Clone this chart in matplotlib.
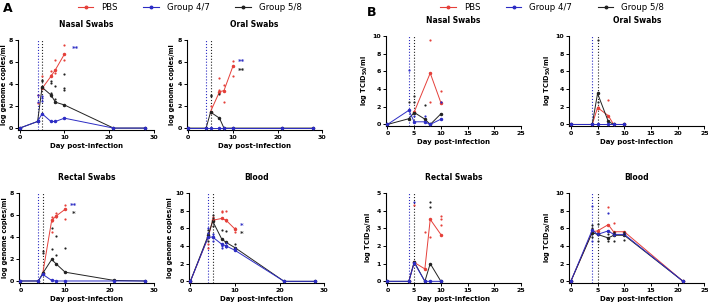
import matplotlib.pyplot as plt
from matplotlib.lines import Line2D

RED = "#e5403a"
BLUE = "#2c2cc4"
BLACK = "#222222"

# ---------- Data ----------
days_a = [0, 4, 5, 7, 8, 10, 21, 28]
days_b = [0, 4, 5, 7, 8, 10]
days_b_blood = [0, 4, 5, 7, 8, 10, 21]

# A: Nasal swabs (log genome copies/ml)
a_nasal_pbs_x = [5, 7, 8, 10]
a_nasal_pbs_y = [3.6, 4.7, 5.3, 6.7]
a_nasal_g47_y = [0, 0.6, 1.3, 0.6, 0.6, 0.9, 0, 0]
a_nasal_g58_y = [0, 0.6, 3.7, 3.0, 2.35, 2.1, 0, 0]
a_nasal_pbs_px = [4, 4, 5, 7, 7, 8, 8, 10, 10]
a_nasal_pbs_py = [3.0, 2.3, 4.7, 5.2, 4.8, 6.2, 5.0, 7.5, 6.2]
a_nasal_g47_px = [4, 4, 5, 5, 5]
a_nasal_g47_py = [3.0, 2.4, 2.9, 2.7, 2.5]
a_nasal_g58_px = [5, 5, 5, 7, 7, 7, 7, 8, 8, 8, 10, 10, 10]
a_nasal_g58_py = [4.4, 4.3, 3.7, 4.3, 4.1, 3.2, 2.9, 3.8, 2.6, 2.4, 4.9, 3.6, 3.5]

# A: Oral swabs
a_oral_pbs_x = [5, 7, 8, 10]
a_oral_pbs_y = [1.5, 3.3, 3.4, 5.6]
a_oral_g47_y = [0, 0, 0, 0, 0, 0, 0, 0]
a_oral_g58_y = [0, 0, 1.45, 0.9, 0, 0, 0, 0]
a_oral_pbs_px = [5, 7, 7, 8, 8, 10, 10]
a_oral_pbs_py = [2.0, 4.5, 3.5, 3.9, 2.4, 6.1, 4.7]
a_oral_g58_px = [5, 5, 7]
a_oral_g58_py = [3.0, 2.9, 3.1]

# A: Rectal swabs
a_rectal_pbs_x = [5, 7, 8, 10]
a_rectal_pbs_y = [0.7, 5.5, 5.9, 6.5]
a_rectal_g47_y = [0, 0, 0.6, 0.05, 0, 0, 0, 0]
a_rectal_g58_y = [0, 0, 0.7, 1.95, 1.55, 0.8, 0.05, 0]
a_rectal_pbs_px = [7, 7, 7, 8, 8, 10, 10]
a_rectal_pbs_py = [5.8, 5.4, 4.4, 6.2, 5.8, 6.9, 5.6]
a_rectal_g58_px = [5, 5, 7, 7, 8, 8, 10]
a_rectal_g58_py = [2.7, 2.5, 4.8, 2.9, 4.1, 2.4, 3.0]

# A: Blood
a_blood_pbs_x = [0, 4, 5, 7, 8, 10]
a_blood_pbs_y = [0, 5.0, 6.9, 7.1, 6.9, 5.9]
a_blood_g47_y = [0, 5.0, 5.0, 4.2, 4.0, 3.5, 0, 0]
a_blood_g58_y = [0, 5.2, 6.8, 4.8, 4.4, 3.8, 0, 0]
a_blood_pbs_px = [4, 4, 5, 5, 7, 7, 8, 8, 10, 10]
a_blood_pbs_py = [4.2, 3.8, 7.3, 7.0, 8.0, 7.8, 7.9, 6.8, 6.0, 5.6]
a_blood_g47_px = [4, 4, 4, 5, 5, 5, 7, 7, 7, 8, 8, 8, 10, 10]
a_blood_g47_py = [6.0, 5.5, 5.0, 5.4, 5.0, 4.6, 4.2, 4.0, 3.8, 4.3, 4.0, 3.9, 3.8, 3.5]
a_blood_g58_px = [4, 4, 4, 5, 5, 5, 7, 8, 10]
a_blood_g58_py = [5.8, 5.5, 4.5, 7.5, 7.2, 6.3, 5.8, 5.7, 4.2]

# B: Nasal swabs (log TCID50/ml)
b_nasal_pbs_x = [5, 8, 10]
b_nasal_pbs_y = [1.4, 5.8, 2.45]
b_nasal_g47_y = [0, 1.6, 0.3, 0.3, 0, 0.6]
b_nasal_g58_y = [0, 0.65, 1.35, 0.6, 0, 1.2]
b_nasal_pbs_px = [8, 8, 10, 10]
b_nasal_pbs_py = [9.5, 2.5, 3.8, 2.5]
b_nasal_g47_px = [4, 5, 7, 10]
b_nasal_g47_py = [6.2, 1.0, 1.0, 2.5]
b_nasal_g58_px = [4, 5, 5, 7]
b_nasal_g58_py = [2.5, 3.2, 2.5, 2.2]

# B: Oral swabs
b_oral_pbs_y = [0, 0, 1.9, 1.0, 0, 0]
b_oral_g47_y = [0, 0, 0, 0, 0, 0]
b_oral_g58_y = [0, 0, 3.5, 0.35, 0, 0]
b_oral_pbs_px = [5, 7]
b_oral_pbs_py = [2.0, 2.8]
b_oral_g58_px = [5, 5]
b_oral_g58_py = [9.5, 2.5]

# B: Rectal swabs
b_rectal_pbs_x = [4, 5, 7, 8, 10]
b_rectal_pbs_y = [0, 1.07, 0.7, 3.5, 2.64]
b_rectal_g47_y = [0, 0, 1.05, 0, 0, 0]
b_rectal_g58_y = [0, 0, 1.1, 0, 1.0, 0]
b_rectal_pbs_px = [5, 7, 8, 10, 10, 10]
b_rectal_pbs_py = [4.3, 2.8, 2.5, 3.7, 3.5, 3.2]
b_rectal_g47_px = [5]
b_rectal_g47_py = [4.5]
b_rectal_g58_px = [8, 8]
b_rectal_g58_py = [4.5, 4.2]

# B: Blood
b_blood_pbs_y = [0, 5.6, 5.7, 6.4, 5.6, 5.6, 0]
b_blood_g47_y = [0, 5.8, 5.3, 5.7, 5.3, 5.3, 0]
b_blood_g58_y = [0, 5.5, 5.3, 4.9, 5.2, 5.2, 0]
b_blood_pbs_px = [7, 8]
b_blood_pbs_py = [8.4, 6.6]
b_blood_g47_px = [4, 4, 4, 5, 7, 7, 8]
b_blood_g47_py = [8.5, 5.8, 4.5, 5.3, 7.7, 5.7, 5.2]
b_blood_g58_px = [4, 4, 4, 5, 5, 5, 7, 7, 8, 8, 8, 10, 10, 10]
b_blood_g58_py = [6.4, 6.0, 5.0, 6.5, 5.4, 4.6, 5.3, 4.6, 5.6, 5.3, 4.6, 5.6, 5.3, 4.7]


# ---------- Helpers ----------
def style_axes(ax, title, ylabel, xmax, xstep, ymax, ystep):
    ax.set_title(title, fontsize=5.5, fontweight="bold", pad=9)
    ax.set_xlabel("Day post-infection", fontsize=5, fontweight="bold", labelpad=2)
    ax.set_ylabel(ylabel, fontsize=4.8, fontweight="bold", labelpad=1.5)
    ax.set_xlim(-0.3, xmax)
    ax.set_ylim(-0.08 * ystep, ymax)
    ax.set_xticks(range(0, xmax + 1, xstep))
    ax.set_yticks([ystep * i for i in range(int(round(ymax / ystep)) + 1)])
    for s in ["top", "right"]:
        ax.spines[s].set_visible(False)
    for s in ["left", "bottom"]:
        ax.spines[s].set_linewidth(0.8)
    ax.tick_params(labelsize=4.5, length=2.2, width=0.7, pad=1.5)
    for lab in ax.get_xticklabels() + ax.get_yticklabels():
        lab.set_fontweight("bold")
    ax.axvline(4, color=BLUE, ls=":", lw=0.8)
    ax.axvline(5, color=BLACK, ls=":", lw=0.8)


def draw(ax, lines, points):
    for (x, y, c) in lines:
        ax.plot(x, y, color=c, lw=0.7, marker="o", ms=1.5, clip_on=False, zorder=3)
    for (x, y, c) in points:
        ax.scatter(x, y, color=c, s=2.5, zorder=4, linewidths=0)


def stars(ax, x, y, s, c):
    ax.text(x, y, s, color=c, fontsize=5, fontweight="bold", ha="center", va="center")


fig = plt.figure(figsize=(7.08, 3.07), dpi=100)

W = 0.191
H = 0.293
ax_an = fig.add_axes([0.026, 0.577, W, H])
ax_ao = fig.add_axes([0.264, 0.577, W, H])
ax_ar = fig.add_axes([0.027, 0.079, W, H])
ax_ab = fig.add_axes([0.267, 0.079, W, H])
ax_bn = fig.add_axes([0.545, 0.59, W, H])
ax_bo = fig.add_axes([0.804, 0.59, W, H])
ax_br = fig.add_axes([0.545, 0.079, W, H])
ax_bb = fig.add_axes([0.804, 0.079, W, H])

gc = "log genome copies/ml"
tc = "log TCID$_{\\mathbf{50}}$/ml"

# A panels
draw(ax_an,
     [(a_nasal_pbs_x, a_nasal_pbs_y, RED), (days_a, a_nasal_g58_y, BLACK), (days_a, a_nasal_g47_y, BLUE)],
     [(a_nasal_pbs_px, a_nasal_pbs_py, RED), (a_nasal_g58_px, a_nasal_g58_py, BLACK),
      (a_nasal_g47_px, a_nasal_g47_py, BLUE)])
style_axes(ax_an, "Nasal Swabs", gc, 30, 10, 8, 2)
stars(ax_an, 12.5, 7.2, "**", BLUE)

draw(ax_ao,
     [(a_oral_pbs_x, a_oral_pbs_y, RED), (days_a, a_oral_g58_y, BLACK), (days_a, a_oral_g47_y, BLUE)],
     [(a_oral_pbs_px, a_oral_pbs_py, RED), (a_oral_g58_px, a_oral_g58_py, BLACK)])
style_axes(ax_ao, "Oral Swabs", gc, 30, 10, 8, 2)
stars(ax_ao, 12, 6.0, "**", BLUE)
stars(ax_ao, 12, 5.2, "**", BLACK)

draw(ax_ar,
     [(a_rectal_pbs_x, a_rectal_pbs_y, RED), (days_a, a_rectal_g58_y, BLACK), (days_a, a_rectal_g47_y, BLUE)],
     [(a_rectal_pbs_px, a_rectal_pbs_py, RED), (a_rectal_g58_px, a_rectal_g58_py, BLACK)])
style_axes(ax_ar, "Rectal Swabs", gc, 30, 10, 8, 2)
stars(ax_ar, 12, 6.8, "**", BLUE)
stars(ax_ar, 12, 6.1, "*", BLACK)

draw(ax_ab,
     [(a_blood_pbs_x, a_blood_pbs_y, RED), (days_a, a_blood_g58_y, BLACK), (days_a, a_blood_g47_y, BLUE)],
     [(a_blood_pbs_px, a_blood_pbs_py, RED), (a_blood_g58_px, a_blood_g58_py, BLACK),
      (a_blood_g47_px, a_blood_g47_py, BLUE)])
style_axes(ax_ab, "Blood", gc, 30, 10, 10, 2)
stars(ax_ab, 11.5, 6.3, "*", BLUE)
stars(ax_ab, 11.5, 5.4, "*", BLACK)

# B panels
draw(ax_bn,
     [(b_nasal_pbs_x, b_nasal_pbs_y, RED), (days_b, b_nasal_g58_y, BLACK), (days_b, b_nasal_g47_y, BLUE)],
     [(b_nasal_pbs_px, b_nasal_pbs_py, RED), (b_nasal_g58_px, b_nasal_g58_py, BLACK),
      (b_nasal_g47_px, b_nasal_g47_py, BLUE)])
style_axes(ax_bn, "Nasal Swabs", tc, 25, 5, 10, 2)

draw(ax_bo,
     [(days_b, b_oral_pbs_y, RED), (days_b, b_oral_g58_y, BLACK), (days_b, b_oral_g47_y, BLUE)],
     [(b_oral_pbs_px, b_oral_pbs_py, RED), (b_oral_g58_px, b_oral_g58_py, BLACK)])
style_axes(ax_bo, "Oral Swabs", tc, 25, 5, 10, 2)

draw(ax_br,
     [(b_rectal_pbs_x, b_rectal_pbs_y, RED), (days_b, b_rectal_g58_y, BLACK), (days_b, b_rectal_g47_y, BLUE)],
     [(b_rectal_pbs_px, b_rectal_pbs_py, RED), (b_rectal_g58_px, b_rectal_g58_py, BLACK),
      (b_rectal_g47_px, b_rectal_g47_py, BLUE)])
style_axes(ax_br, "Rectal Swabs", tc, 25, 5, 5, 1)

draw(ax_bb,
     [(days_b_blood, b_blood_pbs_y, RED), (days_b_blood, b_blood_g58_y, BLACK),
      (days_b_blood, b_blood_g47_y, BLUE)],
     [(b_blood_pbs_px, b_blood_pbs_py, RED), (b_blood_g58_px, b_blood_g58_py, BLACK),
      (b_blood_g47_px, b_blood_g47_py, BLUE)])
style_axes(ax_bb, "Blood", tc, 25, 5, 10, 2)

# legends + panel letters
handles = [Line2D([], [], color=c, lw=0.8, marker="o", ms=1.8) for c in (RED, BLUE, BLACK)]
names = ["PBS", "Group 4/7", "Group 5/8"]
for cx in (0.268, 0.78):
    fig.legend(handles, names, loc="center", bbox_to_anchor=(cx, 0.975), ncol=3, frameon=False,
               fontsize=6.2, handlelength=1.8, columnspacing=3.0, handletextpad=0.9, borderpad=0)
fig.text(0.004, 0.972, "A", fontsize=9, fontweight="bold", va="center")
fig.text(0.518, 0.958, "B", fontsize=9, fontweight="bold", va="center")

plt.savefig("out.png", dpi=100)
